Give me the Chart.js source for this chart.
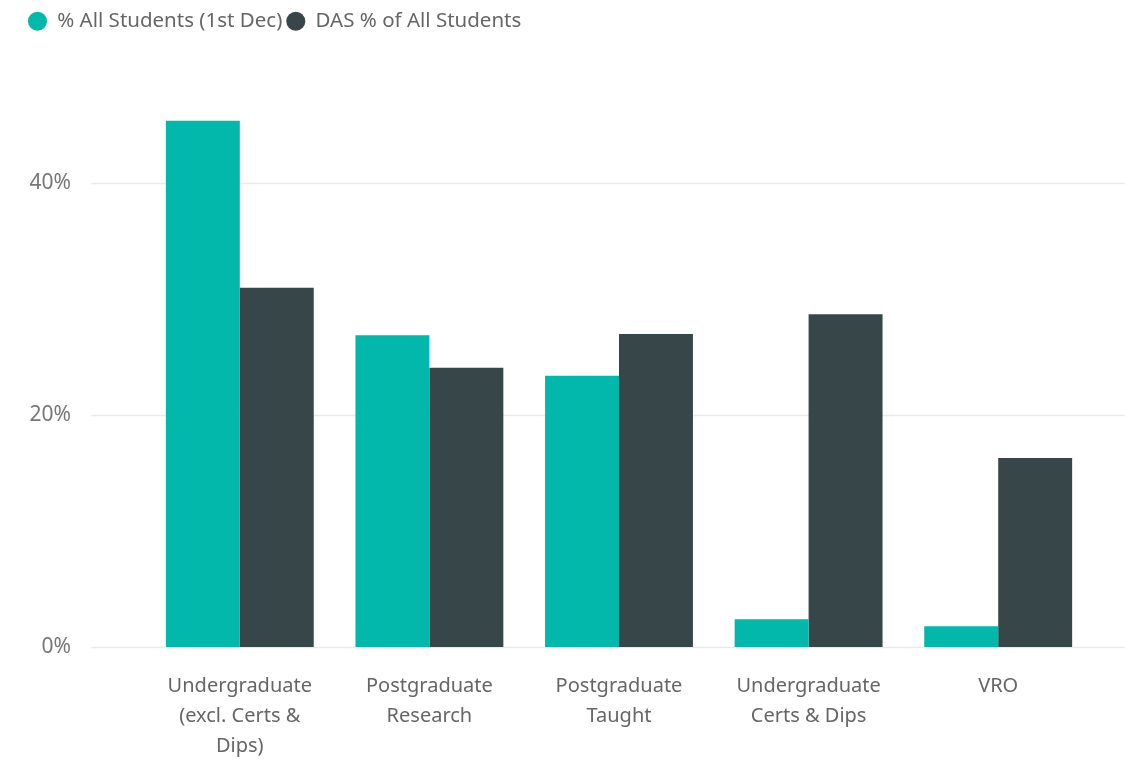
<!DOCTYPE html>
<html>
<head>
<meta charset="utf-8">
<title>Student groups</title>
<script src="https://cdn.jsdelivr.net/npm/chart.js@4"></script>
<style>
  html, body { margin: 0; padding: 0; background: #ffffff; }
  #wrap { width: 1125px; height: 765px; }
</style>
</head>
<body>
<div id="wrap"><canvas id="barres"></canvas></div>
<script>
// Catégories (libellés sur plusieurs lignes)
const categories = [
    ['Undergraduate', '(excl. Certs &', 'Dips)'],
    ['Postgraduate', 'Research'],
    ['Postgraduate', 'Taught'],
    ['Undergraduate', 'Certs & Dips'],
    ['VRO']
];

// Valeurs en %
const pctAllStudents = [45.4, 26.9, 23.4, 2.4, 1.8];
const pctDAS = [31.0, 24.1, 27.0, 28.7, 16.3];

// Graduations de l'axe Y
const yTicks = [0, 20, 40];

const couleurs = ['#01B8AA', '#374649'];
const police = "'Noto Sans', 'Open Sans', sans-serif";

// Lignes horizontales sur toute la largeur (comme Power BI)
const lignesGrille = {
    id: 'lignesGrille',
    beforeDatasetsDraw(chart) {
        const ctx = chart.ctx;
        const y = chart.scales.y;
        ctx.save();
        ctx.strokeStyle = '#eaeaea';
        ctx.lineWidth = 1.5;
        yTicks.forEach(v => {
            const py = Math.round(y.getPixelForValue(v)) + 0.5;
            ctx.beginPath();
            ctx.moveTo(chart.chartArea.left - 54, py);
            ctx.lineTo(chart.width, py);
            ctx.stroke();
        });
        ctx.restore();
    }
};

// Espace sous la légende
const espaceLegende = {
    id: 'espaceLegende',
    beforeInit(chart) {
        const fitOrig = chart.legend.fit;
        chart.legend.fit = function () {
            fitOrig.bind(chart.legend)();
            this.height += 26;
        };
    }
};

const ctx = document.getElementById('barres').getContext('2d');
new Chart(ctx, {
    type: 'bar',
    data: {
        labels: categories,
        datasets: [
            { label: '% All Students (1st Dec)', data: pctAllStudents, backgroundColor: couleurs[0] },
            { label: 'DAS % of All Students', data: pctDAS, backgroundColor: couleurs[1] }
        ]
    },
    options: {
        responsive: true,
        maintainAspectRatio: false,
        animation: false,
        categoryPercentage: 0.78,
        barPercentage: 1.0,
        layout: { padding: { left: 24, right: 32, top: 7, bottom: 0 } },
        plugins: {
            tooltip: { enabled: false },
            legend: {
                position: 'top',
                align: 'start',
                labels: {
                    usePointStyle: true,
                    pointStyle: 'circle',
                    pointStyleWidth: 19,
                    boxHeight: 13.5,
                    padding: 4,
                    color: '#666666',
                    font: { family: police, size: 20.5 }
                }
            }
        },
        scales: {
            x: {
                grid: { display: false, drawTicks: false },
                border: { display: false },
                ticks: {
                    padding: 24,
                    maxRotation: 0,
                    autoSkip: false,
                    color: '#666666',
                    font: { family: police, size: 20, lineHeight: 1.5 }
                },
                afterFit: s => { s.height = 118; }
            },
            y: {
                min: 0,
                max: 50,
                grid: { display: false, drawTicks: true, tickLength: 66 },
                border: { display: false },
                afterBuildTicks: s => { s.ticks = yTicks.map(v => ({ value: v })); },
                afterFit: s => { s.width = 121; },
                ticks: {
                    padding: 8,
                    color: '#777777',
                    font: { family: police, size: 21 },
                    callback: v => v + '%'
                }
            }
        }
    },
    plugins: [lignesGrille, espaceLegende]
});
</script>
</body>
</html>
